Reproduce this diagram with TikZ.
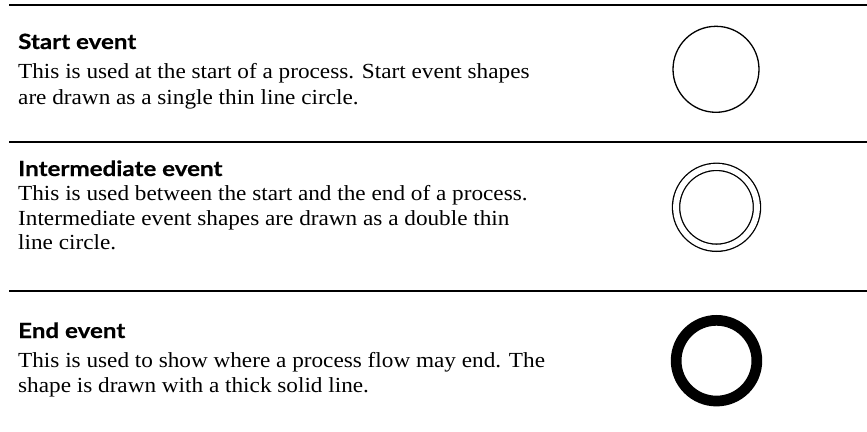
\documentclass[tikz,border=0pt]{standalone}
\usepackage{fontspec}
\setmainfont{Liberation Serif}[FakeStretch=1.08]
\newfontfamily\headfont{Lato}[FakeStretch=1.15,BoldFeatures={FakeBold=0.6}]
\begin{document}
\begin{tikzpicture}[x=1pt,y=-1pt,
  rule/.style={line width=2pt},
  head/.style={anchor=base west,inner sep=0pt,font=\headfont\bfseries\fontsize{21}{21}\selectfont},
  body/.style={anchor=base west,inner sep=0pt,font=\fontsize{21.5}{21.5}\selectfont},
  thinring/.style={circle,draw,line width=1.3pt,inner sep=0pt},
  doublering/.style={circle,draw,double,line width=1.3pt,double distance=5.9pt,inner sep=0pt},
  thickring/.style={circle,draw,line width=10.7pt,inner sep=0pt}]
\useasboundingbox (0,0) rectangle (867,431);

% separating rules
\coordinate (r1a) at (9,5);   \coordinate (r1b) at (867,5);
\coordinate (r2a) at (9,142); \coordinate (r2b) at (867,142);
\coordinate (r3a) at (9,291); \coordinate (r3b) at (867,291);
\draw[rule] (r1a) -- (r1b);
\draw[rule] (r2a) -- (r2b);
\draw[rule] (r3a) -- (r3b);

% start event
\node[head] (h1) at (18,49) {Start event};
\node[body] (b1a) at (18,78.5) {This is used at the start of a process. Start event shapes};
\node[body] (b1b) at (18,104) {are drawn as a single thin line circle.};
\node[thinring,minimum size=86pt] (c1) at (716,69.3) {};

% intermediate event
\node[head] (h2) at (18,176) {Intermediate event};
\node[body] (b2a) at (18,200) {This is used between the start and the end of a process.};
\node[body] (b2b) at (18,225) {Intermediate event shapes are drawn as a double thin};
\node[body] (b2c) at (18,249.5) {line circle.};
\node[doublering,minimum size=80.9pt] (c2) at (716.5,207.3) {};

% end event
\node[head] (h3) at (18,338) {End event};
\node[body] (b3a) at (18,367) {This is used to show where a process flow may end. The};
\node[body] (b3b) at (18,392) {shape is drawn with a thick solid line.};
\node[thickring,minimum size=80.7pt] (c3) at (716.5,360.7) {};
\end{tikzpicture}
\end{document}
